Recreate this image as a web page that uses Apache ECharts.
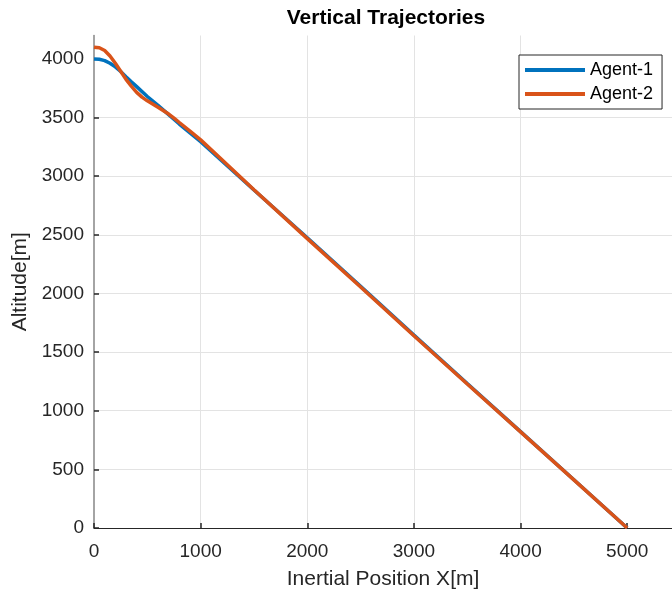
<!DOCTYPE html>
<html>
<head>
<meta charset="utf-8">
<script src="https://cdn.jsdelivr.net/npm/echarts@6/dist/echarts.min.js"></script>
<style>
html,body{margin:0;padding:0;background:#fff;}
#c{width:672px;height:594px;}
</style>
</head>
<body>
<div id="c"></div>
<script>
var agent1X = [0, 50, 100, 150, 200, 250, 300, 350, 400, 500, 600, 700, 800, 900, 1000, 1500, 2000, 2500, 3000, 3500, 4000, 4500, 5000];
var agent1Y = [4000, 3997, 3986, 3963, 3932, 3893, 3849, 3806, 3764, 3680, 3604, 3525, 3445, 3370, 3295, 2882, 2475, 2062, 1645, 1232, 822, 411, 0];
var agent2X = [0, 50, 100, 150, 200, 250, 300, 350, 400, 450, 500, 600, 700, 750, 800, 900, 1000, 1200, 1500, 2000, 2500, 3000, 3500, 4000, 4500, 5000];
var agent2Y = [4100, 4095, 4072, 4025, 3963, 3895, 3826, 3768, 3715, 3675, 3643, 3588, 3530, 3495, 3458, 3385, 3310, 3140, 2885, 2468, 2055, 1640, 1228, 820, 410, 0];
var seriesNames = ['Agent-1', 'Agent-2'];
var xTicks = [0, 1000, 2000, 3000, 4000, 5000];
var yTicks = [0, 500, 1000, 1500, 2000, 2500, 3000, 3500, 4000];
var titleText = 'Vertical Trajectories';
var xName = 'Inertial Position X[m]';
var yName = 'Altitude[m]';

function pairs(xs, ys) { return xs.map(function (x, i) { return [x, ys[i]]; }); }
function plain(v) { return String(v); }

var font = '"Liberation Sans", Arial, sans-serif';
var chart = echarts.init(document.getElementById('c'), null, {renderer: 'canvas'});
chart.setOption({
  animation: false,
  backgroundColor: '#ffffff',
  textStyle: {fontFamily: font},
  title: {
    text: titleText, left: 386, top: 8, padding: 0, textAlign: 'center',
    textStyle: {fontFamily: font, fontSize: 21, fontWeight: 'bold', color: '#000'}
  },
  legend: {
    data: seriesNames, orient: 'vertical', left: 519, top: 55,
    padding: [6, 9, 6, 6], itemWidth: 60, itemHeight: 4, itemGap: 6, icon: 'rect',
    borderColor: '#262626', borderWidth: 1, backgroundColor: '#ffffff',
    textStyle: {fontFamily: font, fontSize: 18, color: '#000', padding: [0, 0, 0, 0]}
  },
  grid: {left: 94, top: 35.5, right: 0, bottom: 66, containLabel: false, outerBoundsMode: 'none'},
  xAxis: {
    type: 'value', min: 0, max: 5420, interval: 1000,
    name: xName, nameLocation: 'middle', nameGap: 41,
    nameTextStyle: {fontFamily: font, fontSize: 21, color: '#262626'},
    axisLine: {show: true, onZero: false, lineStyle: {color: '#262626', width: 1}},
    axisTick: {show: true, inside: true, length: 5, customValues: xTicks, lineStyle: {color: '#262626', width: 1.5}},
    axisLabel: {show: true, customValues: xTicks, formatter: plain, fontSize: 19, color: '#262626', margin: 14, fontFamily: font},
    splitLine: {show: true, showMinLine: false, showMaxLine: false, lineStyle: {color: '#e3e3e3', width: 1}}
  },
  yAxis: {
    type: 'value', min: 0, max: 4200, interval: 500,
    name: yName, nameLocation: 'middle', nameGap: 56,
    nameTextStyle: {fontFamily: font, fontSize: 21, color: '#262626'},
    axisLine: {show: true, onZero: false, lineStyle: {color: '#868686', width: 1.5}},
    axisTick: {show: true, inside: true, length: 5, customValues: yTicks, lineStyle: {color: '#262626', width: 1.5}},
    axisLabel: {show: true, customValues: yTicks, formatter: plain, fontSize: 19, color: '#262626', margin: 10, fontFamily: font, padding: [6, 0, 0, 0]},
    splitLine: {show: true, showMinLine: false, showMaxLine: false, lineStyle: {color: '#e3e3e3', width: 1}}
  },
  series: [
    {name: seriesNames[0], type: 'line', data: pairs(agent1X, agent1Y), showSymbol: false, symbol: 'none',
     smooth: false, lineStyle: {color: '#0072BD', width: 3.5}, itemStyle: {color: '#0072BD'}, z: 2},
    {name: seriesNames[1], type: 'line', data: pairs(agent2X, agent2Y), showSymbol: false, symbol: 'none',
     smooth: false, lineStyle: {color: '#D95319', width: 3.5}, itemStyle: {color: '#D95319'}, z: 3}
  ]
});
</script>
</body>
</html>
